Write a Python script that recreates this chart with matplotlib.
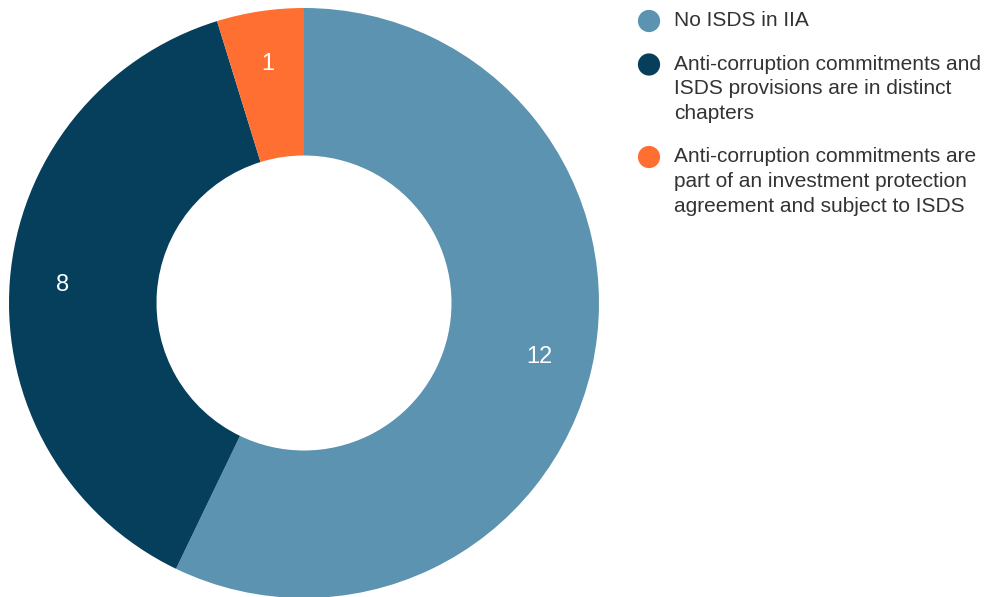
import matplotlib.pyplot as plt

plt.rcParams['font.family'] = ['Liberation Sans', 'DejaVu Sans']

categories = [
    "No ISDS in IIA",
    "Anti-corruption commitments and\nISDS provisions are in distinct\nchapters",
    "Anti-corruption commitments are\npart of an investment protection\nagreement and subject to ISDS",
]
counts = [12, 8, 1]
colors = ["#5b93b0", "#053f5c", "#ff6f31"]

W, H = 989, 597
fig = plt.figure(figsize=(W / 100, H / 100), dpi=100)

# donut centred at (304, 303) px, outer radius 295 px
cx, cy, r = 304, 303, 295
ax = fig.add_axes([(cx - r) / W, 1 - (cy + r) / H, 2 * r / W, 2 * r / H])

wedges, texts = ax.pie(
    counts,
    colors=colors,
    startangle=90,
    counterclock=False,
    radius=1,
    labels=[str(c) for c in counts],
    labeldistance=0.82,
    wedgeprops=dict(width=0.5, edgecolor="none"),
    textprops=dict(color="white", fontsize=17),
)
for t in texts:
    t.set_horizontalalignment("center")
    t.set_verticalalignment("center")
ax.set_xlim(-1, 1)
ax.set_ylim(-1, 1)
ax.set_aspect("auto")

# legend drawn by hand in pixel coordinates: marker sits on the first line
lg = fig.add_axes([0, 0, 1, 1])
lg.set_xlim(0, W)
lg.set_ylim(H, 0)
lg.axis("off")

line_h = 24.5
gap = 19
y = 21
for label, c in zip(categories, colors):
    lg.scatter([649], [y], s=16 ** 2, color=c, edgecolors="none")
    lg.text(674, y - 10, label, fontsize=15, color="#333333",
            va="top", ha="left", linespacing=1.39)
    y += line_h * label.count("\n") + line_h + gap

fig.savefig("out.png", dpi=100)
